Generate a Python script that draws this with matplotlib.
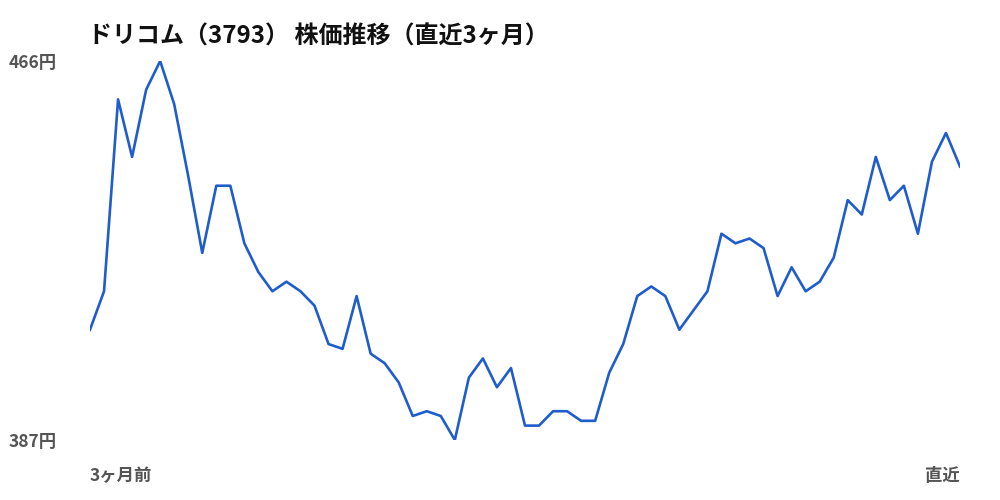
import matplotlib
matplotlib.use("Agg")
import matplotlib.pyplot as plt

plt.rcParams['font.family'] = ['Noto Sans CJK JP', 'DejaVu Sans']

# 直近3ヶ月の終値（円）、古い順
prices = [410, 418, 458, 446, 460, 466, 457, 442, 426, 440, 440, 428, 422, 418, 420,
          418, 415, 407, 406, 417, 405, 403, 399, 392, 393, 392, 387, 400, 404, 398,
          402, 390, 390, 393, 393, 391, 391, 401, 407, 417, 419, 417, 410, 414, 418,
          430, 428, 429, 427, 417, 423, 418, 420, 425, 437, 434, 446, 437, 440, 430,
          445, 451, 444]
title = "ドリコム（3793） 株価推移（直近3ヶ月）"
x_labels = ["3ヶ月前", "直近"]
unit = "円"

low, high = min(prices), max(prices)

fig = plt.figure(figsize=(10, 5), dpi=100)
ax = fig.add_axes([0.09, 0.12, 0.87, 0.758])
ax.plot(range(len(prices)), prices, color='#1f5ccc', linewidth=1.9)
ax.set_xlim(0, len(prices) - 1)
ax.set_ylim(low, high)
ax.axis('off')

gray = '#555555'
fig.text(0.088, 0.926, title, fontsize=17.3, fontweight='bold', color='#111111',
         ha='left', va='center')
ax.text(-0.038, 0.995, f"{high}{unit}", transform=ax.transAxes, fontsize=12.5,
        fontweight='bold', color=gray, ha='right', va='center')
ax.text(-0.038, -0.006, f"{low}{unit}", transform=ax.transAxes, fontsize=12.5,
        fontweight='bold', color=gray, ha='right', va='center')
ax.text(0.0, -0.096, x_labels[0], transform=ax.transAxes, fontsize=12.5,
        fontweight='bold', color=gray, ha='left', va='center')
ax.text(1.0, -0.096, x_labels[1], transform=ax.transAxes, fontsize=12.5,
        fontweight='bold', color=gray, ha='right', va='center')

fig.savefig("out.png", dpi=100)
